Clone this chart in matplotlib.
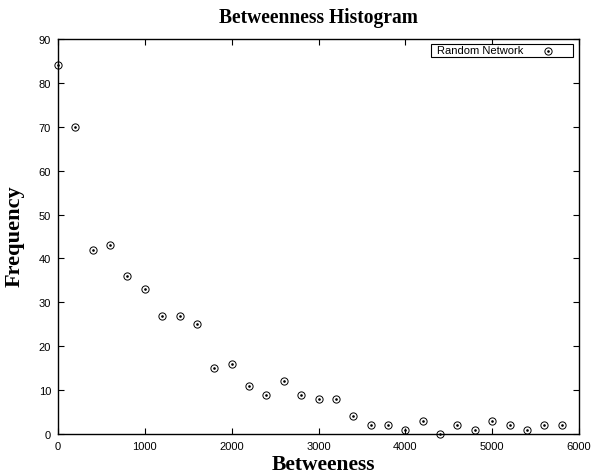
import matplotlib
matplotlib.use("Agg")
import matplotlib.pyplot as plt
from matplotlib.patches import Rectangle

betweenness = [0, 200, 400, 600, 800, 1000, 1200, 1400, 1600, 1800, 2000, 2200, 2400, 2600, 2800,
               3000, 3200, 3400, 3600, 3800, 4000, 4200, 4400, 4600, 4800, 5000, 5200, 5400, 5600, 5800]
frequency = [84, 70, 42, 43, 36, 33, 27, 27, 25, 15, 16, 11, 9, 12, 9,
             8, 8, 4, 2, 2, 1, 3, 0, 2, 1, 3, 2, 1, 2, 2]
x_ticks = [0, 1000, 2000, 3000, 4000, 5000, 6000]
y_ticks = [0, 10, 20, 30, 40, 50, 60, 70, 80, 90]
series_name = 'Random Network'

W, H = 593, 477
L, R, T, B = 58, 579, 40, 435
fig = plt.figure(figsize=(W/100, H/100), dpi=100)
ax = fig.add_axes([L/W, (H-B)/H, (R-L)/W, (B-T)/H])

circ = dict(linestyle='none', marker='o', markersize=5.2, markerfacecolor='none',
            markeredgecolor='black', markeredgewidth=0.7, clip_on=False)
dot = dict(linestyle='none', marker='o', markersize=0.9, color='black', clip_on=False)
ax.plot(betweenness, frequency, **circ)
ax.plot(betweenness, frequency, **dot)

ax.set_xlim(0, 6000)
ax.set_ylim(0, 90)
ax.set_xticks(x_ticks)
ax.set_yticks(y_ticks)
ax.tick_params(direction='in', top=True, right=True, length=4, width=0.8,
               labelsize=8, pad=5)
for lab in ax.get_xticklabels() + ax.get_yticklabels():
    lab.set_family('Liberation Sans')
for s in ax.spines.values():
    s.set_linewidth(1.0)

serif = dict(family='Liberation Serif', weight='bold')
t_title = fig.text(318/W, 1 - 18/H, 'Betweenness Histogram', ha='center', va='center',
                   fontsize=14, **serif)
t_x = fig.text(323/W, 1 - 465/H, 'Betweeness', ha='center', va='center', fontsize=15, **serif)
t_y = fig.text(15/W, 1 - 236/H, 'Frequency', ha='center', va='center', rotation=90,
               fontsize=15, **serif)

fig.canvas.draw()
r = fig.canvas.get_renderer()
for t, target, horiz in [(t_title, 200, True), (t_x, 104, True), (t_y, 102, False)]:
    bb = t.get_window_extent(r)
    cur = bb.width if horiz else bb.height
    t.set_fontsize(t.get_fontsize() * target / cur)

# legend box (gnuplot style key)
aw, ah = R - L, B - T
def fx(px):
    return (px - L) / aw
def fy(py):
    return (B - py) / ah
ax.add_patch(Rectangle((fx(431), fy(58)), fx(573) - fx(431), fy(45) - fy(58),
                       transform=ax.transAxes, facecolor='white', edgecolor='black',
                       linewidth=0.8, clip_on=False, zorder=5))
ax.text(fx(437), fy(51.5), series_name, transform=ax.transAxes, ha='left', va='center',
        family='Liberation Sans', fontsize=8, zorder=6)
ax.plot([fx(548)], [fy(51.5)], transform=ax.transAxes, zorder=6, **circ)
ax.plot([fx(548)], [fy(51.5)], transform=ax.transAxes, zorder=6, **dot)

fig.savefig('out.png', dpi=100)
